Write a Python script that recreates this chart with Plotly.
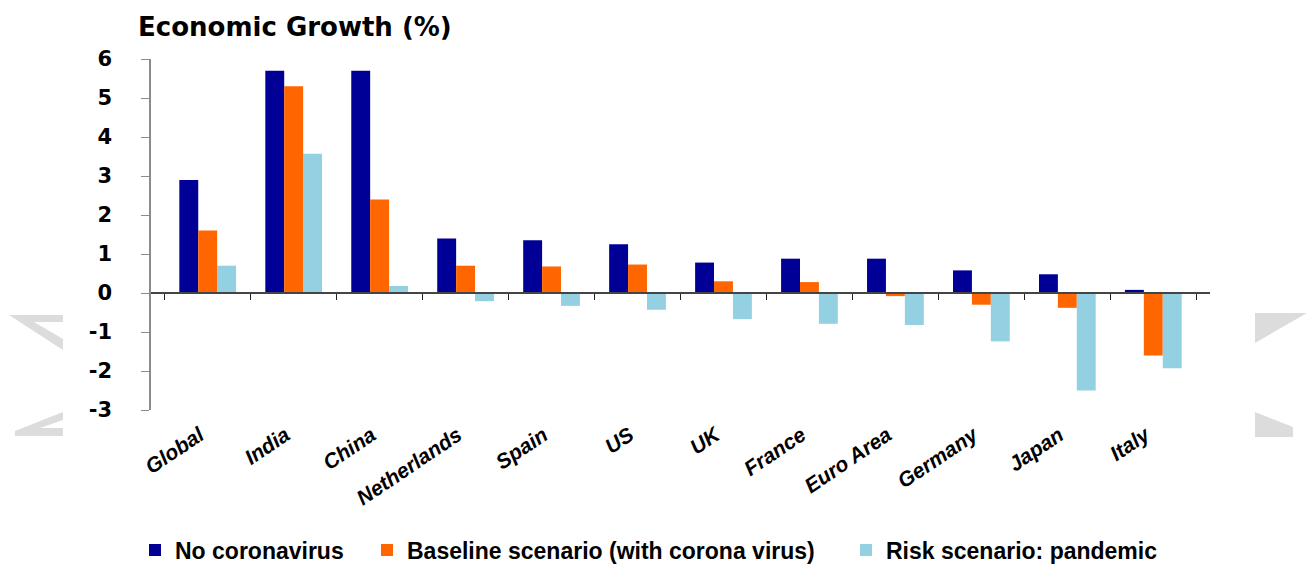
import plotly.graph_objects as go

countries = ["Global", "India", "China", "Netherlands", "Spain", "US", "UK",
             "France", "Euro Area", "Germany", "Japan", "Italy"]
no_corona = [2.9, 5.7, 5.7, 1.4, 1.35, 1.25, 0.78, 0.88, 0.88, 0.58, 0.48, 0.08]
baseline = [1.6, 5.3, 2.4, 0.7, 0.68, 0.73, 0.3, 0.28, -0.08, -0.3, -0.38, -1.6]
risk = [0.7, 3.57, 0.18, -0.21, -0.33, -0.43, -0.67, -0.79, -0.82, -1.24, -2.5, -1.93]

series_names = ["No coronavirus", "Baseline scenario (with corona virus)", "Risk scenario: pandemic"]
series_colors = ["#000096", "#FF6600", "#92D0E2"]

y_tickvals = [-3, -2, -1, 0, 1, 2, 3, 4, 5, 6]
y_ticktext = ["-3", "-2", "-1", "0", "1", "2", "3", "4", "5", "6"]

W, H = 1309, 566
L, R, T, B = 151, 99, 59, 156
y_min, y_max = -3, 6

pw = W - L - R
ph = H - T - B

legend_ids = ["legend", "legend2", "legend3"]
legend_left_px = [135, 367, 846]

fig = go.Figure()
for name, vals, col, lg in zip(series_names, [no_corona, baseline, risk], series_colors, legend_ids):
    fig.add_trace(go.Bar(x=countries, y=vals, name=name, marker=dict(color=col, line=dict(width=0)),
                         xaxis="x", yaxis="y", legend=lg))

# invisible helper trace that carries the category labels at the bottom
fig.add_trace(go.Scatter(x=countries, y=[0] * len(countries), mode="markers",
                         marker=dict(opacity=0), showlegend=False, hoverinfo="skip",
                         xaxis="x2", yaxis="y"))

zero_pos = (0 - y_min) / (y_max - y_min)


def px(x, y):
    return (x - L) / pw, (H - B - y) / ph


def path(points):
    pts = [px(x, y) for x, y in points]
    return "M " + " L ".join(f"{a:.4f},{b:.4f}" for a, b in pts) + " Z"


wm = [
    [(9, 315), (63, 315), (63, 322), (34, 322), (63, 339), (63, 350)],
    [(15, 436), (63, 436), (63, 428), (40, 428), (63, 420), (63, 412), (15, 431)],
    [(1255, 313), (1307, 313), (1255, 343)],
    [(1255, 412), (1293, 427), (1293, 437), (1255, 437)],
]
shapes = [dict(type="path", xref="paper", yref="paper", path=path(p),
               fillcolor="#dcdcdc", line=dict(width=0), layer="below") for p in wm]

legend_font = dict(family="Liberation Sans", size=23, color="black", weight="bold")
legends = {}
for lg, lx in zip(legend_ids, legend_left_px):
    legends[lg] = dict(orientation="h", x=(lx - L) / pw, xanchor="left",
                       y=1 - 550 / H, yref="container", yanchor="middle",
                       font=legend_font, itemwidth=30, bgcolor="rgba(0,0,0,0)")

fig.update_layout(
    width=W, height=H,
    margin=dict(l=L, r=R, t=T, b=B, autoexpand=False),
    paper_bgcolor="white", plot_bgcolor="white",
    barmode="group", bargap=0.34, bargroupgap=0,
    showlegend=True,
    shapes=shapes,
    title=dict(text="<b>Economic Growth (%)</b>", x=138 / W, xref="container", xanchor="left",
               y=1 - 27 / H, yref="container", yanchor="middle",
               font=dict(family="DejaVu Sans", size=26, color="black")),
    xaxis=dict(type="category", categoryorder="array", categoryarray=countries,
               anchor="free", position=zero_pos, showline=True, linecolor="#444444", linewidth=1.5,
               ticks="outside", tickson="boundaries", ticklen=6, tickcolor="#222222",
               showticklabels=False, showgrid=False, zeroline=False),
    xaxis2=dict(type="category", categoryorder="array", categoryarray=countries,
                overlaying="x", matches="x", anchor="y", side="bottom",
                showline=False, ticks="", showgrid=False, zeroline=False,
                tickangle=-34, ticklabelstandoff=8, ticklabelshift=-8, automargin=False,
                tickfont=dict(family="Liberation Sans", size=21, color="black",
                              weight="bold", style="italic")),
    yaxis=dict(range=[y_min, y_max], tickvals=y_tickvals, ticktext=y_ticktext,
               showline=True, linecolor="#8a8a8a", linewidth=1.5,
               ticks="outside", ticklen=8, tickcolor="#8a8a8a", automargin=False,
               showgrid=False, zeroline=False, ticklabelstandoff=25,
               tickfont=dict(family="DejaVu Sans", size=21, color="black", weight="bold")),
    **legends,
)

fig.write_html("out.html", config={"displayModeBar": False},
               post_script="document.body.style.margin='0';document.body.style.overflow='hidden';")
